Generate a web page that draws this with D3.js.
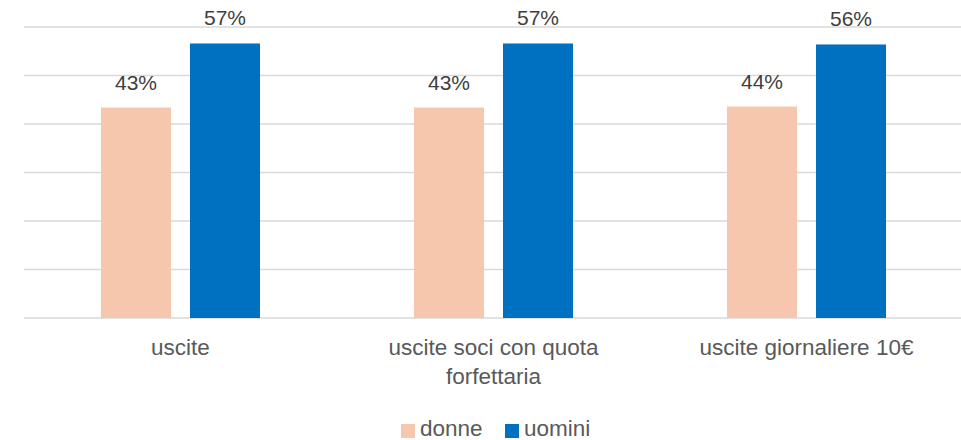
<!DOCTYPE html>
<html>
<head>
<meta charset="utf-8">
<script src="https://cdn.jsdelivr.net/npm/d3@7"></script>
<style>
  body { margin: 0; background: #fff; }
  text { font-family: "Liberation Sans", Arial, sans-serif; }
</style>
</head>
<body>
<svg id="chart" width="961" height="440"></svg>
<script>
const categories = [["uscite"], ["uscite soci con quota", "forfettaria"], ["uscite giornaliere 10€"]];
const seriesNames = ["donne", "uomini"];
const donne = [43.4, 43.4, 43.6];
const uomini = [56.6, 56.6, 56.4];
const labelsDonne = ["43%", "43%", "44%"];
const labelsUomini = ["57%", "57%", "56%"];
const gridTicks = [0, 10, 20, 30, 40, 50, 60];
const colors = ["#F6C7AD", "#0070C0"];

const svg = d3.select("#chart");
const plotLeft = 24, plotRight = 963, plotTop = 27, plotBottom = 318;

const x0 = d3.scaleBand().domain(d3.range(categories.length)).range([plotLeft, plotRight]);
const x1 = d3.scaleBand().domain(seriesNames).range([77, 236]).paddingInner(19 / 89);
const y = d3.scaleLinear().domain([0, 60]).range([plotBottom, plotTop]);

// griglia
svg.append("g").selectAll("line")
    .data(gridTicks)
    .join("line")
    .attr("x1", plotLeft).attr("x2", plotRight)
    .attr("y1", d => y(d)).attr("y2", d => y(d))
    .attr("stroke", "#d9d9d9")
    .attr("stroke-width", 1.3);

const rows = categories.map((c, i) => [
    { s: "donne", v: donne[i], lab: labelsDonne[i], i },
    { s: "uomini", v: uomini[i], lab: labelsUomini[i], i }
]);

const groups = svg.append("g").selectAll("g")
    .data(rows)
    .join("g")
    .attr("transform", (d, i) => `translate(${x0(i)},0)`);

groups.selectAll("rect")
    .data(d => d)
    .join("rect")
    .attr("x", d => x1(d.s))
    .attr("width", x1.bandwidth())
    .attr("y", d => y(d.v))
    .attr("height", d => y(0) - y(d.v))
    .attr("fill", (d, j) => colors[j]);

groups.selectAll("text.val")
    .data(d => d)
    .join("text")
    .attr("class", "val")
    .attr("x", d => x1(d.s) + x1.bandwidth() / 2)
    .attr("y", d => y(d.v) - 18)
    .attr("text-anchor", "middle")
    .attr("font-size", 21)
    .attr("fill", "#404040")
    .text(d => d.lab);

// etichette asse x
const xl = svg.append("g").selectAll("text")
    .data(categories)
    .join("text")
    .attr("x", (d, i) => x0(i) + x0.bandwidth() / 2)
    .attr("y", 355)
    .attr("text-anchor", "middle")
    .attr("font-size", 22.5)
    .attr("fill", "#595959");
xl.selectAll("tspan")
    .data(d => d)
    .join("tspan")
    .attr("x", function () { return d3.select(this.parentNode).attr("x"); })
    .attr("dy", (d, j) => j === 0 ? 0 : 29)
    .text(d => d);

// legenda
const legX = [401, 505];
const leg = svg.append("g").selectAll("g")
    .data(seriesNames)
    .join("g")
    .attr("transform", (d, i) => `translate(${legX[i]},424)`);
leg.append("rect").attr("width", 14).attr("height", 14).attr("fill", (d, i) => colors[i]);
leg.append("text")
    .attr("x", 19).attr("y", 12)
    .attr("font-size", 22.5)
    .attr("fill", "#595959")
    .text(d => d);
</script>
</body>
</html>
